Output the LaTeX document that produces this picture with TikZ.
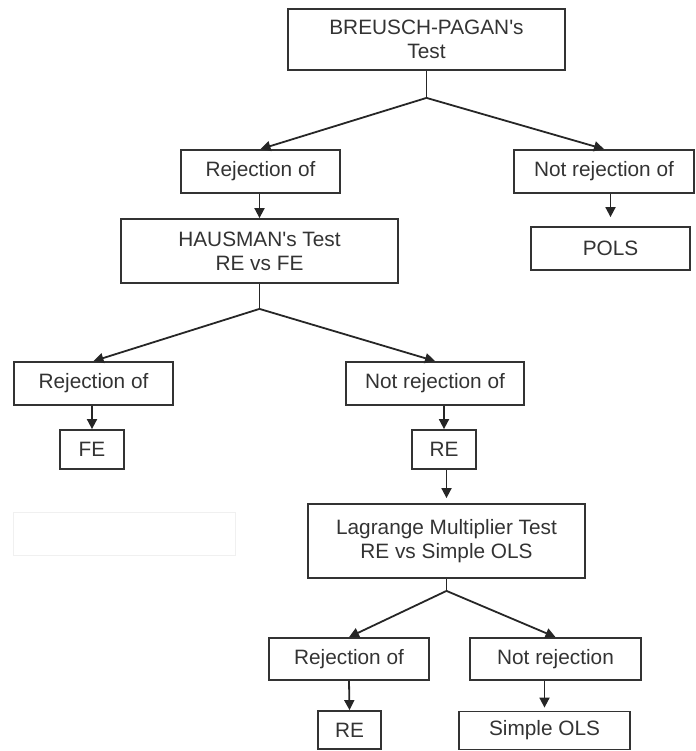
\documentclass[tikz,border=0pt]{standalone}
\usepackage{fontspec}
\setmainfont{Liberation Sans}
\usetikzlibrary{arrows.meta,positioning}

\begin{document}
\begin{tikzpicture}[x=1pt,y=-1pt,
        box/.style = {draw=black!80, line width=1.8pt, align=center, inner sep=0pt, text=black!80, font=\fontsize{20.8}{24}\selectfont},
        arr/.style = {draw=black!85, line width=1.8pt, -{Triangle[length=10pt,width=10pt]}},
        ln/.style = {draw=black!85, line width=1.8pt},
        ]
        \useasboundingbox (0,0) rectangle (695,751);
        % first test
        \node[box, minimum width=277pt, minimum height=61pt](bp) at (426.5,39.5) {BREUSCH-PAGAN\textquotesingle s\\Test};
        \node[box, minimum width=159pt, minimum height=43pt](rej1) at (260.5,171.5) {Rejection of};
        \node[box, minimum width=180pt, minimum height=43pt](nrej1) at (604,171.5) {Not rejection of};
        \node[box, minimum width=277pt, minimum height=64pt](haus) at (259.5,251) {HAUSMAN\textquotesingle s Test\\RE vs FE};
        \node[box, minimum width=159pt, minimum height=43pt](pols) at (610.5,248.5) {POLS};
        % second test
        \node[box, minimum width=159pt, minimum height=43pt](rej2) at (93.5,383.5) {Rejection of};
        \node[box, minimum width=178pt, minimum height=43pt](nrej2) at (435,383.5) {Not rejection of};
        \node[box, minimum width=64pt, minimum height=39pt](fe) at (92,449.5) {FE};
        \node[box, minimum width=64pt, minimum height=39pt](re1) at (444,449.5) {RE};
        \node[box, minimum width=277pt, minimum height=74pt](lm) at (446.5,541) {Lagrange Multiplier Test\\RE vs Simple OLS};
        % third test
        \node[box, minimum width=160pt, minimum height=42pt](rej3) at (349,659) {Rejection of};
        \node[box, minimum width=171pt, minimum height=42pt](nrej3) at (555.5,659) {Not rejection};
        \node[box, minimum width=63pt, minimum height=38pt](re2) at (349.5,730) {RE};
        \node[box, minimum width=171pt, minimum height=38pt](sols) at (544.5,730.5) {Simple OLS};
        % faint frame
        \draw[black!6, line width=1pt] (13,512) rectangle (235,555);

        \coordinate (b1) at ([yshift=-27pt]bp.south);
        \coordinate (b2) at ([yshift=-25pt]haus.south);
        \coordinate (b3) at ([yshift=-12pt]lm.south);

        \draw[ln] (bp.south) -- (b1);
        \draw[arr] (b1) -- (rej1.north);
        \draw[arr] (b1) -- (nrej1.north);
        \draw[arr] (rej1.south -| haus.north) -- (haus.north);
        \draw[arr, shorten >=9pt] (nrej1.south -| pols.north) -- (pols.north);

        \draw[ln] (haus.south) -- (b2);
        \draw[arr] (b2) -- (rej2.north);
        \draw[arr] (b2) -- (nrej2.north);
        \draw[arr] (rej2.south -| fe.north) -- (fe.north);
        \draw[arr] (nrej2.south -| re1.north) -- (re1.north);
        \draw[arr, shorten >=5pt] (re1.south -| lm.north) -- (lm.north);

        \draw[ln] (lm.south) -- (b3);
        \draw[arr] (b3) -- (rej3.north);
        \draw[arr] (b3) -- (nrej3.north);
        \draw[arr] (rej3.south) -- (re2.north);
        \draw[arr, shorten >=3pt] (nrej3.south -| sols.north) -- (sols.north);
        \end{tikzpicture}
\end{document}
